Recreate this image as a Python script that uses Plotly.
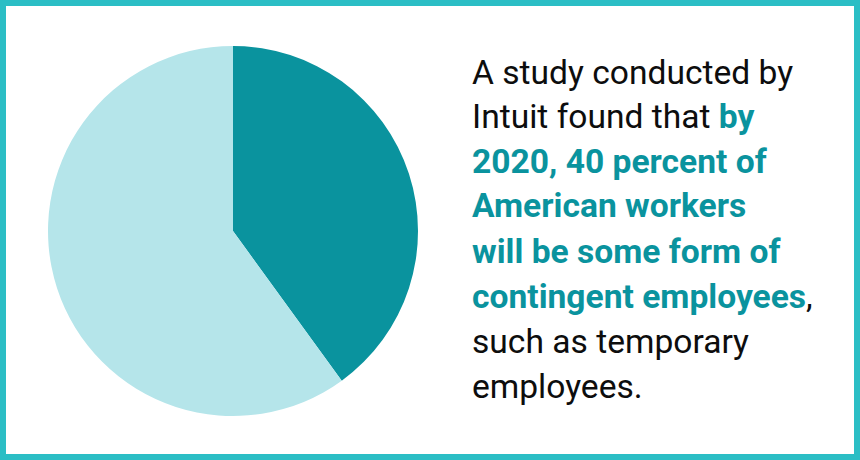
import plotly.graph_objects as go

# Data
labels = ["Contingent employees", "Other workers"]
values = [40, 60]
slice_colors = ["#0A939E", "#B5E5EA"]

TEAL = "#0A939E"
B = lambda s: f"<b><span style='color:{TEAL}'>{s}</span></b>"
text_lines = [
    "A study conducted by",
    "Intuit found that " + B("by"),
    B("2020, 40 percent of"),
    B("American workers"),
    B("will be some form of"),
    B("contingent employees") + ",",
    "such as temporary",
    "employees.",
]
baselines_px = [83, 128, 173, 217, 262, 307, 352, 397]

W, H = 860, 460

fig = go.Figure(go.Pie(
    labels=labels, values=values, sort=False, direction="clockwise", rotation=0,
    marker=dict(colors=slice_colors, line=dict(width=0)),
    textinfo="none", hoverinfo="label+percent", showlegend=False,
    domain=dict(x=[48 / W, 418 / W], y=[(H - 416) / H, (H - 46) / H]),
))

for line, bl in zip(text_lines, baselines_px):
    fig.add_annotation(
        text=line, x=470 / W, y=(H - bl + 11) / H, xref="paper", yref="paper",
        xanchor="left", yanchor="middle", showarrow=False, align="left",
        font=dict(family="Roboto", size=33.6, color="#0d0d0d"),
    )

fig.add_shape(type="rect", xref="paper", yref="paper",
              x0=3 / W, x1=1 - 3 / W, y0=3 / H, y1=1 - 3 / H,
              line=dict(color="#2BBEC5", width=6), fillcolor="rgba(0,0,0,0)")

fig.update_layout(width=W, height=H, margin=dict(l=0, r=0, t=0, b=0),
                  paper_bgcolor="white", plot_bgcolor="white")
fig.write_html("out.html", config={"displayModeBar": False},
               post_script="document.body.style.margin='0';document.body.style.overflow='hidden';")
